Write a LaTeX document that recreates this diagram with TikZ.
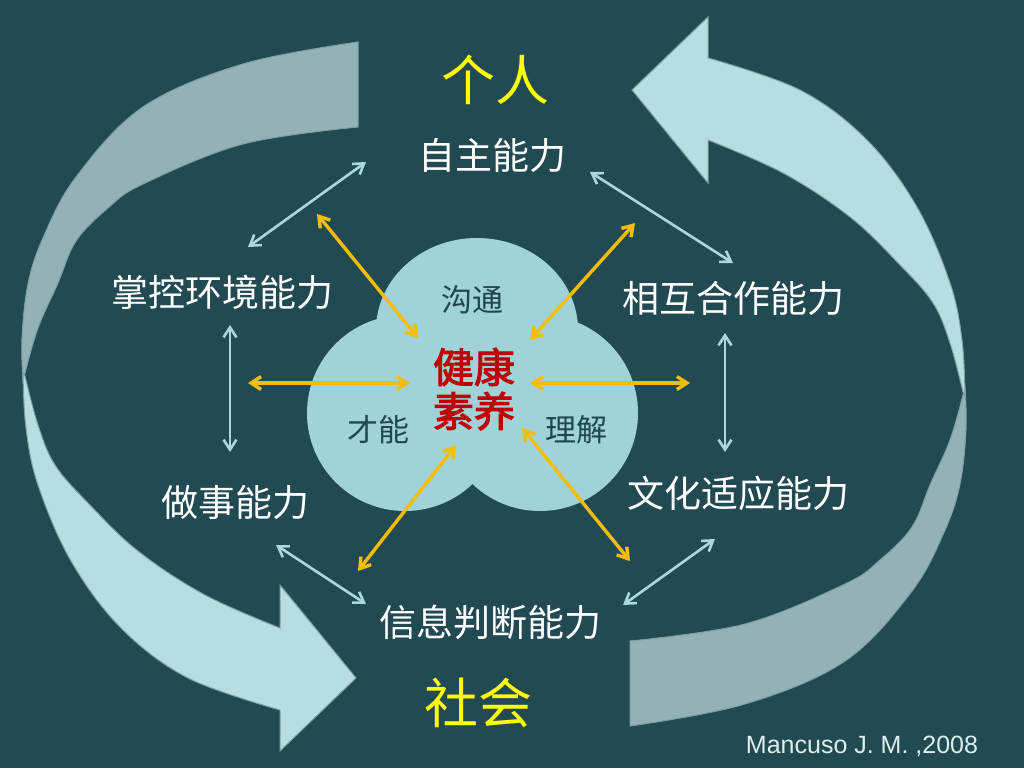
\documentclass[tikz,border=0pt]{standalone}
\usepackage{fontspec}
\setmainfont{Liberation Sans}
\newfontfamily\cjk{Noto Sans CJK SC}
\newfontfamily\cjkb[FakeBold=2.5]{Noto Sans CJK SC}
\usetikzlibrary{arrows.meta}
\definecolor{bg}{RGB}{34,74,82}
\definecolor{cloudc}{RGB}{160,210,217}
\definecolor{arrlight}{RGB}{170,216,222}
\definecolor{arryel}{RGB}{245,188,10}
\definecolor{bigl}{RGB}{181,221,226}
\definecolor{bigg}{RGB}{147,177,182}
\definecolor{bigedge}{RGB}{125,160,166}
\definecolor{coretxt}{RGB}{192,0,0}
\definecolor{cloudtxt}{RGB}{30,72,80}
\definecolor{citec}{RGB}{222,238,238}
\newcommand\mybigarrow{%
  \filldraw[fill=bigg,draw=bigedge,line width=1pt]
    plot[smooth,tension=0.6] coordinates {(965,388)(966,430)(960,484)(945,530)(912,591)(845,661)(745,704)(630,726)}
    -- (630,641)
    -- plot[smooth,tension=0.6] coordinates {(630,641)(745,624)(845,584)(880,560)(912,527)(930,485)(950,440)(963,395)}
    -- cycle;
  \filldraw[fill=bigl,draw=bigedge,line width=1pt]
    plot[smooth,tension=0.6] coordinates {(965,395)(962,340)(950,283)(917,207)(867,140)(800,90)(708,58)}
    -- (708,17) -- (632,90) -- (708,183) -- (708,140)
    -- plot[smooth,tension=0.6] coordinates {(708,140)(783,173)(850,217)(900,265)(933,303)(950,343)(963,392)}
    -- cycle;
}
\tikzset{
  barb/.tip={Straight Barb[length=10pt,width=13pt]},
  lightarr/.style={draw=arrlight, line width=2.6pt, barb-barb},
  yarr/.style={draw=arryel, line width=3.4pt, barb-barb},
  ability/.style={text=white, font=\cjk\fontsize{37}{40}\selectfont, inner sep=0pt},
  pole/.style={text={rgb,255:red,255;green,255;blue,0}, font=\cjk\fontsize{54}{58}\selectfont, inner sep=0pt},
  cloudword/.style={text=cloudtxt, font=\cjk\fontsize{31}{34}\selectfont, inner sep=0pt},
}
\begin{document}
\begin{tikzpicture}[x=1pt,y=-1pt]
\fill[bg] (0,0) rectangle (1024,768);
\useasboundingbox (0,0) rectangle (1024,768);

% big circular arrows
\mybigarrow
\begin{scope}[rotate around={180:(494,384)}]
\mybigarrow
\end{scope}

% cloud
\fill[cloudc] (477,330) ellipse [x radius=101pt, y radius=92pt];
\fill[cloudc] (405,413) circle [radius=98pt];
\fill[cloudc] (540,413) circle [radius=98pt];
\fill[cloudc] (378,330) rectangle (576,470);

% texts
\node[pole] (ren) at (495,80) {个人};
\node[pole] (she) at (478,703) {社会};
\node[ability] (zizhu) at (492,155) {自主能力};
\node[ability] (zhangkong) at (222,292) {掌控环境能力};
\node[ability] (huxiang) at (733,298) {相互合作能力};
\node[ability] (zuoshi) at (235,502) {做事能力};
\node[ability] (wenhua) at (738,493) {文化适应能力};
\node[ability] (xinxi) at (490,622) {信息判断能力};
\node[cloudword] (goutong) at (472,300) {沟通};
\node[cloudword] (caineng) at (378,430) {才能};
\node[cloudword] (lijie) at (576,430) {理解};
\node[text=coretxt, font=\cjkb\fontsize{41}{44}\selectfont, align=center, inner sep=0pt] (core) at (474,389) {健康\\素养};
\node[text=citec, font=\fontsize{25}{28}\selectfont, inner sep=0pt] (cite) at (862,746) {Mancuso J. M. ,2008};

% connector end points
\coordinate (zz-l) at (366,162);
\coordinate (zk-t) at (248,247);
\coordinate (zz-r) at (590,172);
\coordinate (hx-t) at (733,263);
\coordinate (zk-b) at (230,325);
\coordinate (zs-t) at (230,452);
\coordinate (hx-b) at (725,333);
\coordinate (wh-t) at (725,452);
\coordinate (zs-b) at (276,545);
\coordinate (xx-l) at (366,604);
\coordinate (wh-b) at (715,539);
\coordinate (xx-r) at (623,605);
\coordinate (y1o) at (317,214);
\coordinate (y1i) at (418,338);
\coordinate (y2o) at (635,223);
\coordinate (y2i) at (530,340);
\coordinate (y3o) at (248,383);
\coordinate (y3i) at (410,383);
\coordinate (y4o) at (690,383);
\coordinate (y4i) at (530,383);
\coordinate (y5o) at (358,571);
\coordinate (y5i) at (456,445);
\coordinate (y6o) at (630,561);
\coordinate (y6i) at (522,428);

% light blue connectors between abilities
\draw[lightarr] (zz-l) -- (zk-t);
\draw[lightarr] (zz-r) -- (hx-t);
\draw[lightarr] (zk-b) -- (zs-t);
\draw[lightarr] (hx-b) -- (wh-t);
\draw[lightarr] (zs-b) -- (xx-l);
\draw[lightarr] (wh-b) -- (xx-r);

% yellow connectors to the core
\draw[yarr] (y1o) -- (y1i);
\draw[yarr] (y2o) -- (y2i);
\draw[yarr] (y3o) -- (y3i);
\draw[yarr] (y4o) -- (y4i);
\draw[yarr] (y5o) -- (y5i);
\draw[yarr] (y6o) -- (y6i);
\end{tikzpicture}
\end{document}
